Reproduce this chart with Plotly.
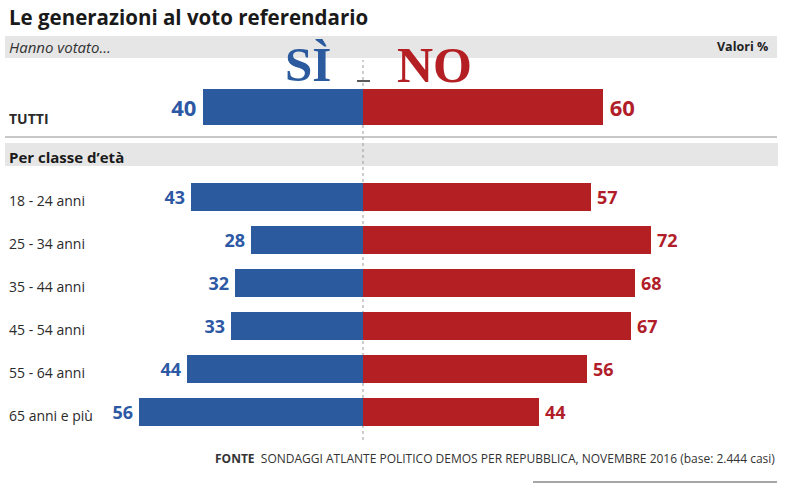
import plotly.graph_objects as go

# ---- data ----
total_label = ["TUTTI"]
total_si = [40]
total_no = [60]
age_labels = ["18 - 24 anni", "25 - 34 anni", "35 - 44 anni", "45 - 54 anni",
              "55 - 64 anni", "65 anni e più"]
age_si = [43, 28, 32, 33, 44, 56]
age_no = [57, 72, 68, 67, 56, 44]

BLUE = "#2b5a9e"
BLUE_T = "#2c58a4"
RED = "#b41f24"
RED_T = "#b11e2a"
FONT = "Open Sans"
W, H = 800, 484
THIN = "\u2009"

spacer = " "
cat_order = total_label + [spacer] + age_labels

# y scale: one category step = 43 px, last category centred at 412 px
UNIT = 43.0
ANCHOR_IDX, ANCHOR_PX = len(cat_order) - 1, 412


def py(p):  # pixel y -> paper
    return 1 - p / H


def px(p):
    return p / W


fig = go.Figure()

def add_pair(labels, si, no, width, size, offset=None):
    common = dict(y=labels, orientation="h", width=width, textposition="outside",
                  constraintext="none", cliponaxis=False, hoverinfo="skip", showlegend=False)
    if offset is not None:
        common["offset"] = offset
    fig.add_trace(go.Bar(
        x=[-v for v in si], marker=dict(color=BLUE, line=dict(width=0)),
        text=[f"{v}{THIN}" for v in si],
        textfont=dict(family=FONT, size=size, color=BLUE_T, weight="bold"), **common))
    fig.add_trace(go.Bar(
        x=no, marker=dict(color=RED, line=dict(width=0)),
        text=[f"{THIN}{v}" for v in no],
        textfont=dict(family=FONT, size=size, color=RED_T, weight="bold"), **common))

# TUTTI bar is thicker and sits slightly higher than its category slot
add_pair(total_label, total_si, total_no, 0.83, 22, offset=-0.415 - 4 / UNIT)
add_pair(age_labels, age_si, age_no, 0.64, 18)

shapes = [
    dict(type="rect", xref="paper", yref="paper", x0=px(5), x1=px(777), y0=py(58), y1=py(36),
         fillcolor="#e6e6e6", line=dict(width=0), layer="below"),
    dict(type="rect", xref="paper", yref="paper", x0=px(5), x1=px(778), y0=py(166), y1=py(143),
         fillcolor="#e6e6e6", line=dict(width=0), layer="below"),
    dict(type="line", xref="paper", yref="paper", x0=px(5), x1=px(777), y0=py(137), y1=py(137),
         line=dict(color="#b5b5b5", width=1.5)),
    dict(type="line", xref="x", yref="paper", x0=0, x1=0, y0=py(440), y1=py(60),
         line=dict(color="#9a9a9a", width=1, dash="dot"), layer="below"),
    dict(type="line", xref="paper", yref="paper", x0=px(357), x1=px(370), y0=py(81), y1=py(81),
         line=dict(color="#222", width=1.5)),
    dict(type="line", xref="paper", yref="paper", x0=px(533), x1=px(777), y0=py(482), y1=py(482),
         line=dict(color="#888", width=1.5)),
]

ann = [
    dict(text="<b>Le generazioni al voto referendario</b>", x=px(7), y=py(17), xanchor="left",
         yanchor="middle", font=dict(family=FONT, size=20.5, color="#1a1a1a")),
    dict(text="<i>Hanno votato...</i>", x=px(7), y=py(47), xanchor="left", yanchor="middle",
         font=dict(family=FONT, size=15, color="#333")),
    dict(text="<b>Valori %</b>", x=px(770), y=py(47), xanchor="right", yanchor="middle",
         font=dict(family=FONT, size=12.5, color="#222")),
    dict(text="<b>SÌ</b>", x=px(308), y=py(65), xanchor="center", yanchor="middle",
         font=dict(family="Liberation Serif", size=49, color=BLUE)),
    dict(text="<b>NO</b>", x=px(434), y=py(65), xanchor="center", yanchor="middle",
         font=dict(family="Liberation Serif", size=50, color=RED)),
    dict(text="<b>Per classe d’età</b>", x=px(7), y=py(157), xanchor="left", yanchor="middle",
         font=dict(family=FONT, size=15, color="#1a1a1a")),
    dict(text="<b>FONTE</b>  SONDAGGI ATLANTE POLITICO DEMOS PER REPUBBLICA, NOVEMBRE 2016 (base: 2.444 casi)",
         x=px(777), y=py(458), xanchor="right", yanchor="middle",
         font=dict(family=FONT, size=12, color="#333")),
]
for a in ann:
    a.update(xref="paper", yref="paper", showarrow=False)

for lab in total_label + age_labels:
    is_total = lab in total_label
    ann.append(dict(text=f"<b>{lab}</b>" if is_total else lab, xref="paper", yref="y",
                    x=px(7), y=lab, xanchor="left", yanchor="middle", showarrow=False,
                    yshift=-7 if is_total else -3,
                    font=dict(family=FONT, size=14, color="#2a2a2a")))

y_top = ANCHOR_IDX - ANCHOR_PX / UNIT
y_bot = ANCHOR_IDX + (H - ANCHOR_PX) / UNIT

fig.update_layout(
    width=W, height=H, margin=dict(l=0, r=0, t=0, b=0),
    paper_bgcolor="white", plot_bgcolor="white",
    barmode="relative", bargap=0,
    xaxis=dict(range=[-363 / 4, (W - 363) / 4], visible=False, fixedrange=True),
    yaxis=dict(type="category", categoryorder="array", categoryarray=cat_order,
               range=[y_bot, y_top], visible=False, fixedrange=True),
    shapes=shapes, annotations=ann,
)

fig.write_html("out.html", config={"displayModeBar": False},
               post_script="document.body.style.margin='0';")
